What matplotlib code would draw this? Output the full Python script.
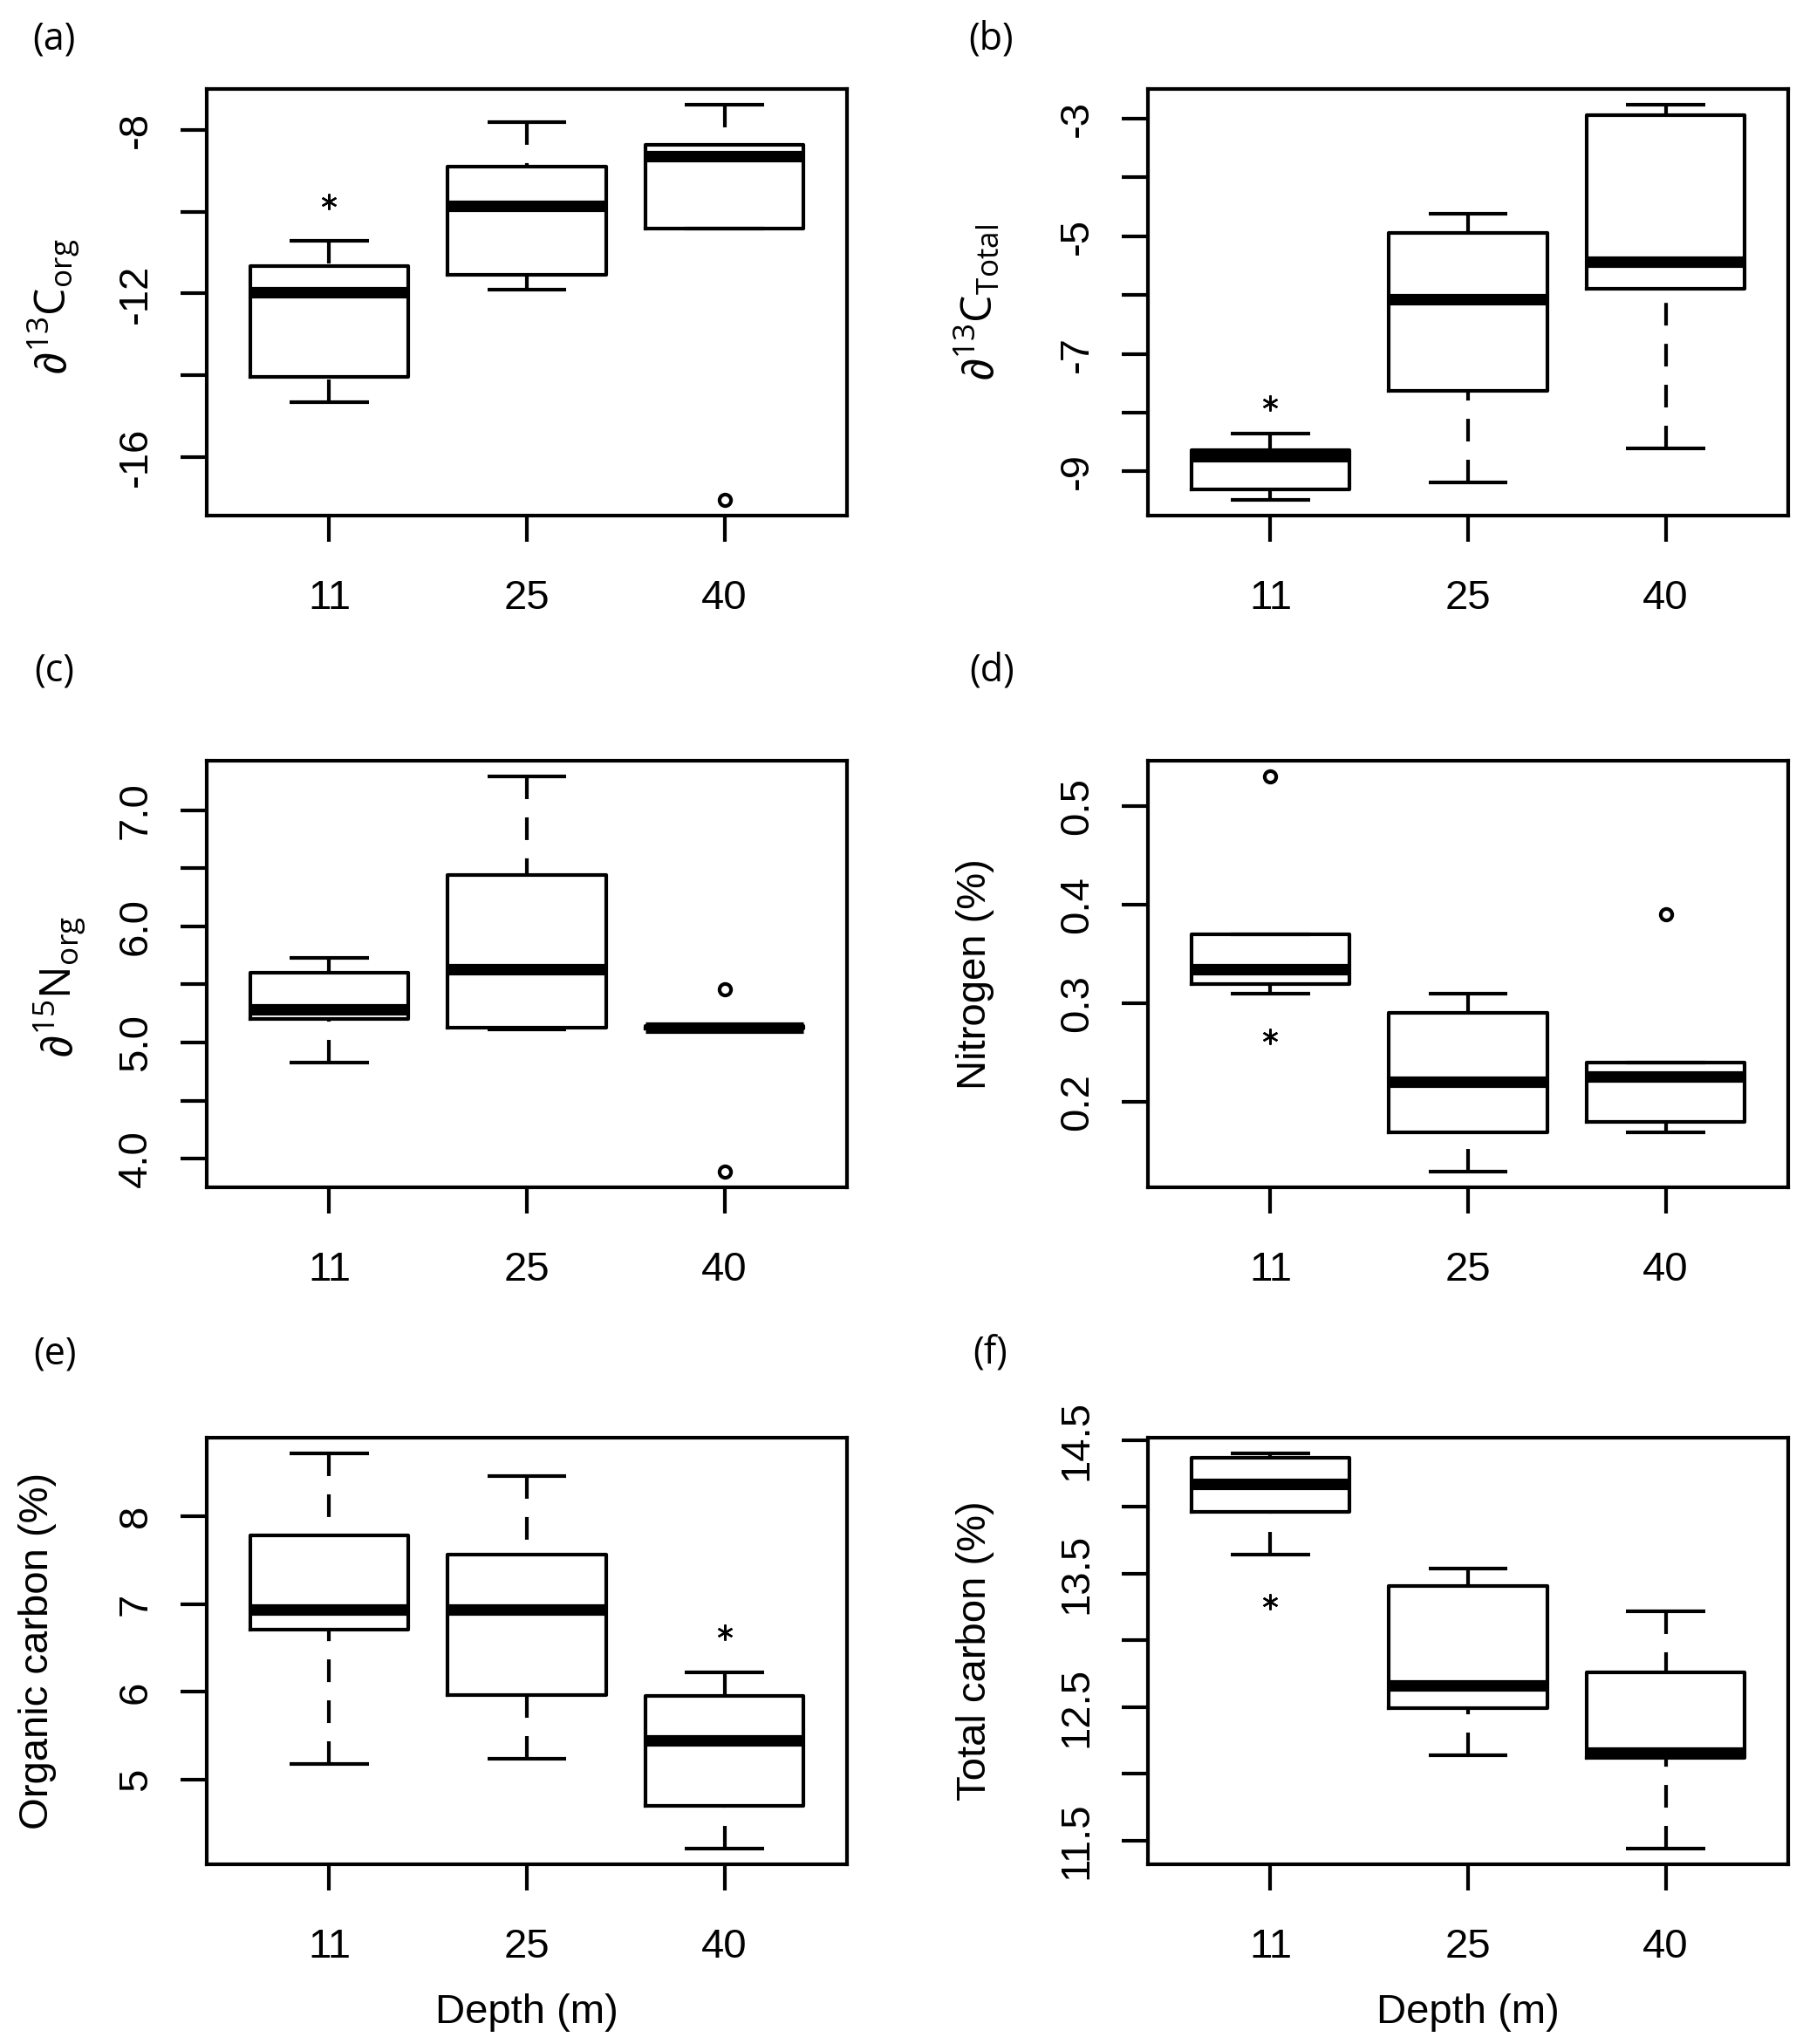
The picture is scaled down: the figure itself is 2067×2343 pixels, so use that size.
import numpy as np
import matplotlib
matplotlib.use('Agg')
import matplotlib.pyplot as plt

plt.rcParams['font.family'] = ['Liberation Sans', 'DejaVu Sans']
plt.rcParams['mathtext.fontset'] = 'custom'
plt.rcParams['mathtext.rm'] = 'Open Sans'
plt.rcParams['mathtext.it'] = 'Open Sans:italic'
plt.rcParams['mathtext.bf'] = 'Open Sans:bold'
plt.rcParams['mathtext.fallback'] = 'stixsans'
plt.rcParams['lines.scale_dashes'] = False

# ---------------- data ----------------
depths = ['11', '25', '40']

# five-number summaries per depth: [whisker low, Q1, median, Q3, whisker high]
c13org_stats = [[-14.65, -14.03, -11.96, -11.34, -10.71],
                [-11.91, -11.55, -9.87, -8.90, -7.81],
                [-10.42, -10.42, -8.64, -8.36, -7.39]]
c13org_out = [[], [], [-17.04]]
c13org_star = [-9.75, None, None]

c13tot_stats = [[-9.48, -9.31, -8.745, -8.63, -8.36],
                [-9.18, -7.63, -6.07, -4.95, -4.62],
                [-8.61, -5.89, -5.44, -2.94, -2.77]]
c13tot_out = [[], [], []]
c13tot_star = [-7.84, None, None]

n15org_stats = [[4.83, 5.20, 5.287, 5.60, 5.73],
                [5.11, 5.13, 5.63, 6.44, 7.29],
                [5.12, 5.12, 5.13, 5.14, 5.14]]
n15org_out = [[], [], [5.46, 3.89]]
n15org_star = [None, None, None]

nitro_stats = [[0.310, 0.319, 0.334, 0.370, 0.370],
               [0.129, 0.169, 0.220, 0.290, 0.310],
               [0.169, 0.179, 0.225, 0.240, 0.240]]
nitro_out = [[0.530], [], [0.390]]
nitro_star = [0.266, None, None]

orgc_stats = [[5.18, 6.71, 6.94, 7.78, 8.71],
              [5.24, 5.96, 6.94, 7.56, 8.45],
              [4.22, 4.70, 5.45, 5.95, 6.22]]
orgc_out = [[], [], []]
orgc_star = [None, None, 6.68]

totc_stats = [[13.64, 13.96, 14.17, 14.37, 14.40],
              [12.14, 12.49, 12.66, 13.41, 13.54],
              [11.44, 12.12, 12.158, 12.76, 13.22]]
totc_out = [[], [], []]
totc_star = [13.29, None, None]

# y tick positions and labels
c13org_ticks = [-16, -14, -12, -10, -8]
c13org_ticklabels = ['-16', '', '-12', '', '-8']
c13tot_ticks = [-9, -8, -7, -6, -5, -4, -3]
c13tot_ticklabels = ['-9', '', '-7', '', '-5', '', '-3']
n15org_ticks = [4.0, 4.5, 5.0, 5.5, 6.0, 6.5, 7.0]
n15org_ticklabels = ['4.0', '', '5.0', '', '6.0', '', '7.0']
nitro_ticks = [0.2, 0.3, 0.4, 0.5]
nitro_ticklabels = ['0.2', '0.3', '0.4', '0.5']
orgc_ticks = [5, 6, 7, 8]
orgc_ticklabels = ['5', '6', '7', '8']
totc_ticks = [11.5, 12.0, 12.5, 13.0, 13.5, 14.0, 14.5]
totc_ticklabels = ['11.5', '', '12.5', '', '13.5', '', '14.5']

panel_letters = ['(a)', '(b)', '(c)', '(d)', '(e)', '(f)']
# isotope labels: partial sign + rest (superscript mass number, element, subscript)
iso_rest = [r'$\mathrm{{}^{13}C_{org}}$', r'$\mathrm{{}^{13}C_{Total}}$',
            r'$\mathrm{{}^{15}N_{org}}$']
plain_ylabels = [None, None, None, 'Nitrogen (%)', 'Organic carbon (%)',
                 'Total carbon (%)']
xlabel = 'Depth (m)'

panels = [
    (c13org_stats, c13org_out, c13org_star, c13org_ticks, c13org_ticklabels),
    (c13tot_stats, c13tot_out, c13tot_star, c13tot_ticks, c13tot_ticklabels),
    (n15org_stats, n15org_out, n15org_star, n15org_ticks, n15org_ticklabels),
    (nitro_stats, nitro_out, nitro_star, nitro_ticks, nitro_ticklabels),
    (orgc_stats, orgc_out, orgc_star, orgc_ticks, orgc_ticklabels),
    (totc_stats, totc_out, totc_star, totc_ticks, totc_ticklabels),
]

# ---------------- layout ----------------
W, H = 2067, 2343
fig = plt.figure(figsize=(W / 100, H / 100), dpi=100)
renderer = fig.canvas.get_renderer()

col_x = [237 / W, 1316 / W]
col_w = 734 / W
row_top_px = [102, 872, 1648]
row_h_px = 489
letter_pos = [(62, 45), (1136, 45), (62, 769), (1137, 769), (63, 1552), (1135, 1552)]
ylabel_x = [67, 1127, 77, 1118, 43, 1118]
iso_baseline_x = [75, 1138, 82]
iso_center_y = [350, 345, 1130]

LW = 3.0
positions = [1, 2, 3]


def iso_label(xb, cy_px, rest, size=36):
    t1 = fig.text(xb / W, 0.5, '∂', rotation=90, rotation_mode='anchor',
                  ha='left', va='baseline', fontsize=size,
                  family=['Liberation Sans', 'DejaVu Sans'])
    t2 = fig.text(xb / W, 0.5, rest, rotation=90, rotation_mode='anchor',
                  ha='left', va='baseline', fontsize=size)
    h1 = t1.get_window_extent(renderer).height
    h2 = t2.get_window_extent(renderer).height
    y0 = (H - cy_px) - (h1 + h2) / 2
    t1.set_position((xb / W, y0 / H))
    t2.set_position((xb / W, (y0 + h1 - 1) / H))


for i, (stats, outs, stars, yt, ytl) in enumerate(panels):
    r, c = divmod(i, 2)
    top = row_top_px[r]
    ax = fig.add_axes([col_x[c], 1 - (top + row_h_px) / H, col_w, row_h_px / H])

    bstats = [dict(whislo=s[0], q1=s[1], med=s[2], q3=s[3], whishi=s[4], fliers=o)
              for s, o in zip(stats, outs)]
    b = ax.bxp(bstats, positions=positions, widths=0.8, capwidths=0.4,
               showfliers=True,
               boxprops=dict(color='black', linewidth=LW),
               whiskerprops=dict(color='black', linewidth=LW,
                                 linestyle=(0, (18.7, 15.1)), dash_capstyle='butt'),
               capprops=dict(color='black', linewidth=LW, solid_capstyle='butt'),
               medianprops=dict(color='black', linewidth=9.5, solid_capstyle='butt'),
               flierprops=dict(marker='o', markerfacecolor='none',
                               markeredgecolor='black', markersize=9.5,
                               markeredgewidth=3, linestyle='none'))
    # R draws whiskers from the whisker end towards the box
    for w in b['whiskers']:
        xd, yd = w.get_data()
        w.set_data(xd[::-1], yd[::-1])

    for p, sv in zip(positions, stars):
        if sv is not None:
            ax.plot([p], [sv], marker=(6, 2, 0), markersize=13, markeredgewidth=1.7,
                    color='black', linestyle='none')

    # R-style limits (4% extension of data range)
    vals = [v for s in stats for v in (s[0], s[4])] + [v for o in outs for v in o]
    lo, hi = min(vals), max(vals)
    ext = 0.04 * (hi - lo)
    ax.set_ylim(lo - ext, hi + ext)
    ax.set_xlim(0.38, 3.62)

    ax.set_xticks(positions)
    ax.set_xticklabels(depths)
    ax.set_yticks(yt)
    ax.set_yticklabels(ytl)

    for sp in ax.spines.values():
        sp.set_linewidth(LW)
    ax.tick_params(axis='both', direction='out', length=21.6, width=LW,
                   labelsize=34, colors='black')
    ax.tick_params(axis='x', pad=31)
    ax.tick_params(axis='y', pad=21, labelrotation=90)
    for lbl in ax.get_yticklabels():
        lbl.set_va('center')

    cy = 1 - (top + row_h_px / 2) / H
    if i < 3:
        iso_label(iso_baseline_x[i], iso_center_y[i], iso_rest[i])
    else:
        fig.text(ylabel_x[i] / W, cy, plain_ylabels[i], rotation=90, ha='center',
                 va='center', fontsize=34)

    lx, ly = letter_pos[i]
    fig.text(lx / W, 1 - ly / H, panel_letters[i], ha='center', va='center',
             fontsize=31, family=['Open Sans', 'DejaVu Sans'])

    if r == 2:
        bb = ax.get_position()
        fig.text(bb.x0 + bb.width * (2 - 0.38) / 3.24, 1 - 2307 / H, xlabel,
                 ha='center', va='center', fontsize=34)

fig.savefig('out.png', dpi=100, facecolor='white')
